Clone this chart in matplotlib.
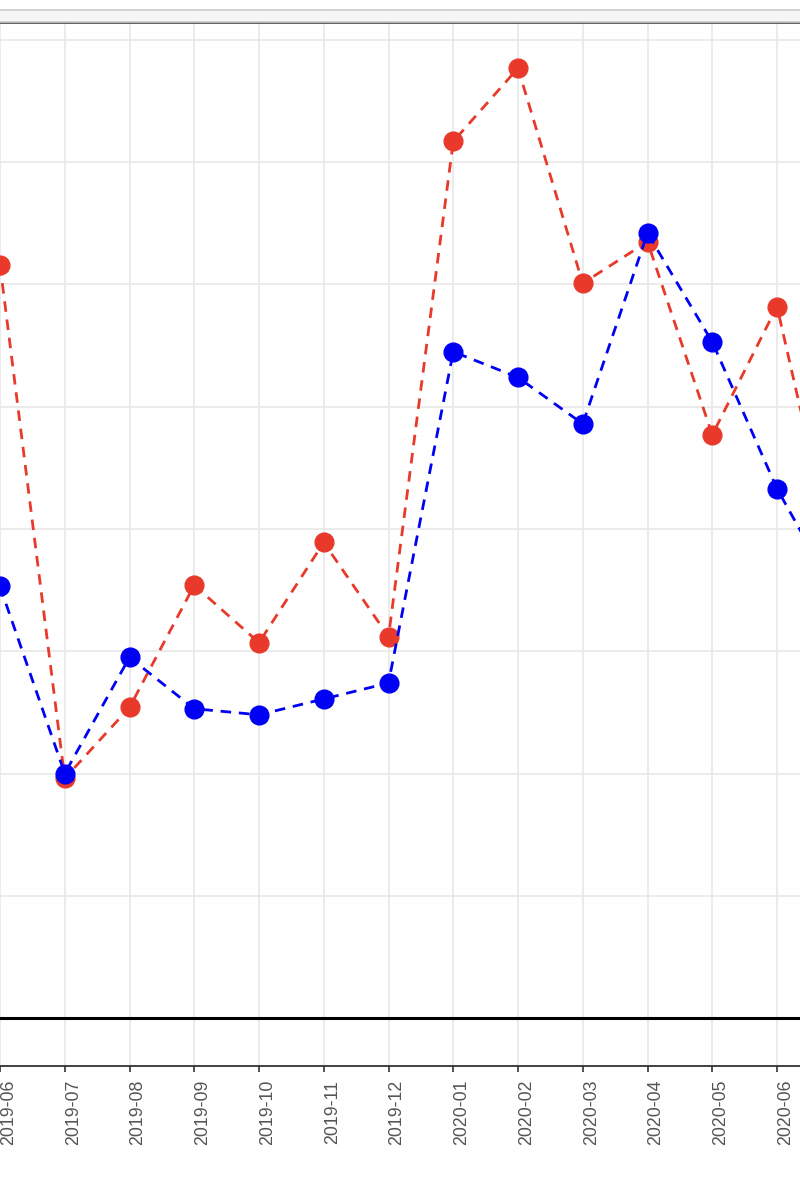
import matplotlib
matplotlib.use("Agg")
import matplotlib.pyplot as plt
from matplotlib.patches import Rectangle

# ---- data (y units = one grid step) ----
months = ["2019-06", "2019-07", "2019-08", "2019-09", "2019-10", "2019-11",
          "2019-12", "2020-01", "2020-02", "2020-03", "2020-04", "2020-05",
          "2020-06", "2020-07"]
red_values = [6.16, 1.96, 2.54, 3.54, 3.07, 3.89, 3.12, 7.17, 7.77, 6.01,
              6.35, 4.77, 5.82, 3.50]
blue_values = [3.53, 2.00, 2.95, 2.53, 2.48, 2.61, 2.74, 5.45, 5.24, 4.86,
               6.42, 5.53, 4.33, 3.38]
# the last month lies beyond the cropped right edge; its label is not shown
tick_labels = months[:-1] + [""]

RED = "#E8392B"
BLUE = "#0000F5"

W, H = 800, 1200
fig = plt.figure(figsize=(8, 12), dpi=100)
fig.patch.set_facecolor("white")

# axes extends beyond the left/right edges of the figure (cropped chart)
left_px, right_px = -80, 880
top_px, bottom_px = 22, 1066
ax = fig.add_axes([left_px / W, 1 - bottom_px / H,
                   (right_px - left_px) / W, (bottom_px - top_px) / H])
step = 64.75
ax.set_xlim(left_px / step, right_px / step)
unit = 122.25
ax.set_ylim((1018 - bottom_px) / unit, (1018 - top_px) / unit)

x = list(range(len(months)))
ax.set_facecolor("white")
for yv in range(0, 9):
    ax.axhline(yv, color="#e8e8e8", lw=1.2, zorder=0)
for xv in x:
    ax.axvline(xv, color="#e8e8e8", lw=1.2, zorder=0)

ax.axhline(0, color="black", lw=2.2, zorder=1)

ax.plot(x, red_values, color=RED, lw=2.0, linestyle=(0, (3.8, 2.8)),
        marker="o", markersize=13.5, zorder=3)
ax.plot(x, blue_values, color=BLUE, lw=2.0, linestyle=(0, (3.8, 2.8)),
        marker="o", markersize=13.5, zorder=4)

ax.set_xticks(x)
ax.set_xticklabels(tick_labels, rotation=90, ha="left", va="top",
                   fontsize=12.8, color="#555555", family="Liberation Sans")
ax.tick_params(axis="x", length=4, width=1.2, color="#333333", pad=6)
ax.tick_params(axis="y", left=False, labelleft=False)

for side in ["left", "right"]:
    ax.spines[side].set_visible(False)
ax.spines["bottom"].set_color("#333333")
ax.spines["bottom"].set_linewidth(1.3)
ax.spines["top"].set_color("#333333")
ax.spines["top"].set_linewidth(1.8)

# strip above the panel (cropped)
fig.patches.append(Rectangle((-0.01, 1 - 22 / H), 1.02, 12 / H,
                             transform=fig.transFigure, facecolor="#f5f5f5",
                             edgecolor="#cccccc", lw=1.2, zorder=0))

fig.savefig("out.png", dpi=100)
